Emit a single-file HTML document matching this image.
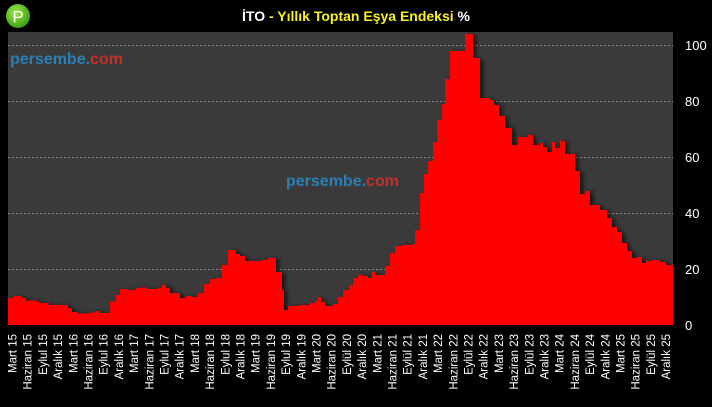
<!DOCTYPE html>
<html><head><meta charset="utf-8"><style>
html,body{margin:0;padding:0;background:#000;}
body{width:712px;height:402px;overflow:hidden;}
</style></head><body>
<svg width="712" height="402" viewBox="0 0 712 402" xmlns="http://www.w3.org/2000/svg" font-family="'Liberation Sans', sans-serif">
<defs>
<filter id="sh" x="-5%" y="-5%" width="110%" height="110%"><feDropShadow dx="3" dy="1" stdDeviation="2.5" flood-color="#000" flood-opacity="0.7"/></filter>
<radialGradient id="lg" cx="40%" cy="35%" r="70%"><stop offset="0" stop-color="#9be84a"/><stop offset="1" stop-color="#3c9a10"/></radialGradient>
</defs>
<rect x="0" y="0" width="712" height="402" fill="#000"/>
<rect x="8" y="32" width="665" height="293" fill="#3a3a3a"/>
<g stroke="#888" stroke-width="1" stroke-dasharray="2,2">
<line x1="8" x2="673" y1="45.5" y2="45.5"/>
<line x1="8" x2="673" y1="101.5" y2="101.5"/>
<line x1="8" x2="673" y1="157.5" y2="157.5"/>
<line x1="8" x2="673" y1="213.5" y2="213.5"/>
<line x1="8" x2="673" y1="269.5" y2="269.5"/>
</g>
<text x="10" y="64" font-size="16" font-weight="bold"><tspan fill="#2a80b4">persembe.</tspan><tspan fill="#c4302b">com</tspan></text>
<text x="286" y="186" font-size="16" font-weight="bold"><tspan fill="#2a80b4">persembe.</tspan><tspan fill="#c4302b">com</tspan></text>
<path id="area" fill="#ff0000" filter="url(#sh)" d="M8,325 V298 H14 V296 H22 V298 H26 V300.5 H37 V302 H40 V303 H49 V305 H68 V308 H72 V312 H78 V313.5 H90 V312.5 H95 V311 H100 V313 H110 V301.5 H116 V295 H120 V289 H128 V290 H136 V288 H140 V287.5 H148 V289 H158 V288 H162 V285 H166 V288 H170 V293 H180 V298 H186 V296 H192 V297 H198 V293 H204 V284 H210 V279 H216 V278 H222 V265 H228 V250 H236 V254 H240 V256 H245 V261 H262 V260 H268 V258 H276 V272 H282 V290 H284 V310 H288 V306 H300 V305 H310 V303 H315 V301 H318 V297 H321 V302 H325 V306 H333 V304 H338 V297 H343 V290 H349 V285 H353 V278 H358 V275 H363 V276 H368 V278 H372 V272 H375 V275 H385 V266 H390 V253 H395 V246 H402 V245 H412 V244 H415 V230 H420 V193 H424 V174 H428 V161 H433 V142 H437 V120 H442 V104 H445 V79 H450 V51 H465 V34 H473 V58 H480 V98 H490 V100 H494 V105 H499 V116 H505 V128 H512 V145 H518 V137 H528 V135 H533 V145 H540 V143 H543 V147 H547 V152 H552 V142 H555 V148 H560 V141 H565 V154 H575 V171 H580 V194 H585 V191 H590 V205 H600 V210 H607 V218 H612 V227 H617 V232 H622 V243 H627 V251 H632 V258 H637 V257 H642 V263 H646 V261 H652 V260 H660 V262 H666 V265 H673 V325 Z"/>
<g fill="#fff" font-size="13">
<text x="685" y="50">100</text>
<text x="685" y="106">80</text>
<text x="685" y="162">60</text>
<text x="685" y="218">40</text>
<text x="685" y="274">20</text>
<text x="685" y="330">0</text>
</g>
<circle cx="18" cy="16" r="12" fill="url(#lg)"/>
<text x="18" y="22.5" fill="#fff" font-size="17" text-anchor="middle">P</text>
<text x="356" y="21" font-size="14" font-weight="bold" text-anchor="middle"><tspan fill="#fff">İTO</tspan><tspan fill="#f5f020"> - Yıllık Toptan Eşya Endeksi</tspan><tspan fill="#fff"> %</tspan></text>
<g fill="#fff" font-size="11.5" text-anchor="end" id="xl"></g>
</svg>
<script>
var m=["Mart","Haziran","Eylul","Aralık"];var g=document.getElementById("xl");var i=0;
for(var y=15;y<=25;y++){for(var k=0;k<4;k++){var x=12.5+i*15.2+4;var name=m[k];if(k==2&&y>=20)name="Eylül";
var t=document.createElementNS("http://www.w3.org/2000/svg","text");t.setAttribute("transform","translate("+x.toFixed(1)+",334) rotate(-90)");t.textContent=name+" "+y;g.appendChild(t);i++;}}
</script>
</body></html>
